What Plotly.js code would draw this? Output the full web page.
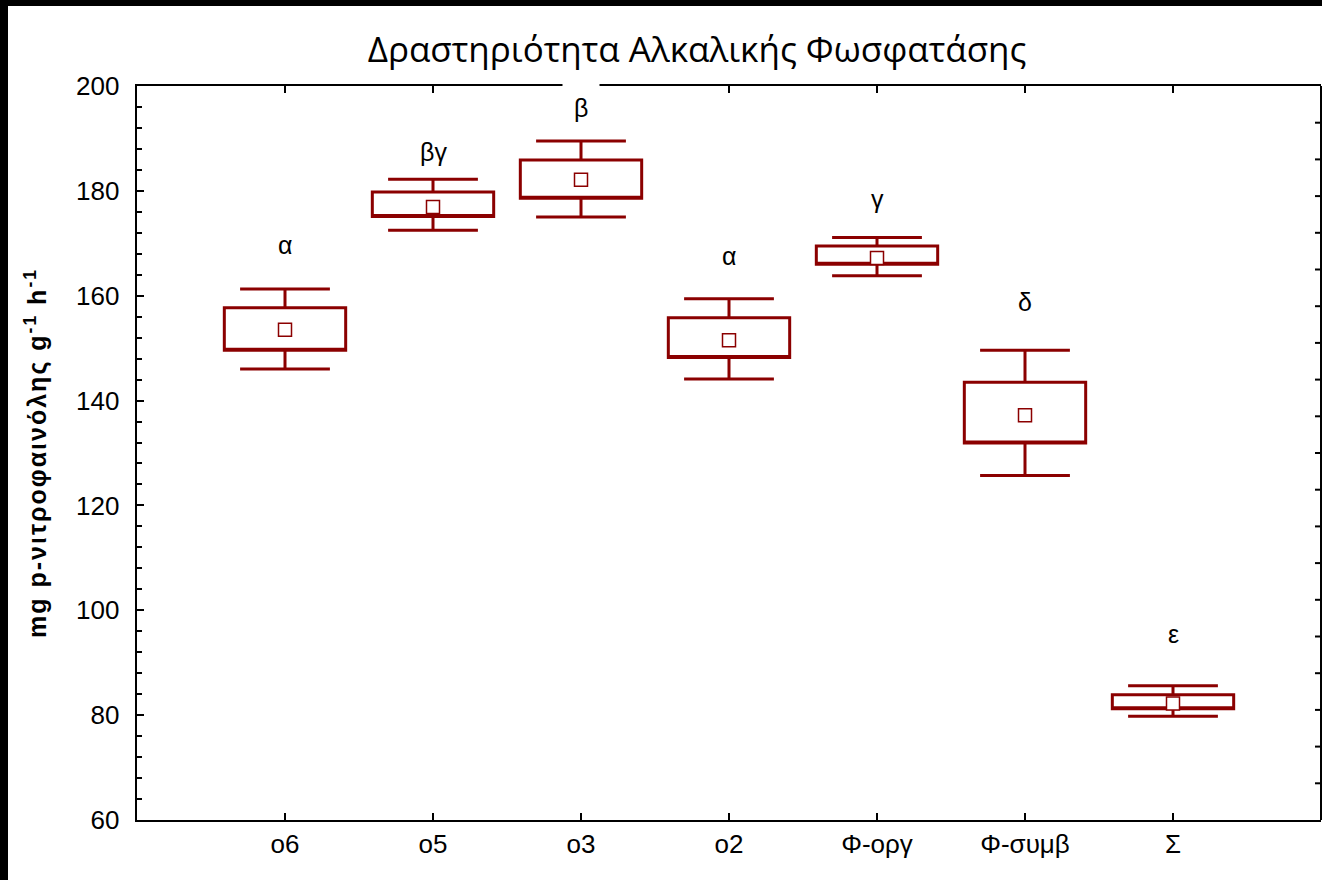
<!DOCTYPE html>
<html>
<head>
<meta charset="utf-8">
<script src="https://cdn.plot.ly/plotly-3.0.1.min.js"></script>
<style>
  html, body { margin: 0; padding: 0; background: #000; width: 1322px; height: 880px; overflow: hidden; }
  #chart { position: absolute; left: 8px; top: 6px; width: 1314px; height: 874px; background: #fff; }
  #chart .ytitle { letter-spacing: 2px; }
</style>
</head>
<body>
<div id="chart"></div>
<script>
// ---- data ----
const categories   = ['o6', 'o5', 'o3', 'o2', 'Φ-οργ', 'Φ-συμβ', 'Σ'];
const meanValues   = [153.5, 176.9, 182.1, 151.5, 167.2, 137.2, 82.2];
const boxUpper     = [157.7, 179.8, 185.9, 155.8, 169.5, 143.5, 83.9];
const boxLower     = [149.6, 175.1, 178.6, 148.2, 166.0, 131.9, 81.2];
const whiskerUpper = [161.3, 182.2, 189.5, 159.4, 171.1, 149.6, 85.6];
const whiskerLower = [146.0, 172.5, 175.0, 144.1, 163.8, 125.7, 79.8];
const groupLetters = ['α', 'βγ', 'β', 'α', 'γ', 'δ', 'ε'];
const letterY      = [169.7, 187.4, 195.8, 167.6, 178.4, 158.8, 95.5];
const rightTickIntervals = 20;   // unlabelled ticks on the right frame

const dark = '#8B0000';

const boxTrace = {
  type: 'box',
  x: categories,
  q1: boxLower,
  median: boxLower,
  q3: boxUpper,
  lowerfence: whiskerLower,
  upperfence: whiskerUpper,
  width: 0.82,
  whiskerwidth: 0.74,
  line: { color: dark, width: 3 },
  fillcolor: 'rgba(0,0,0,0)',
  boxpoints: false,
  hoverinfo: 'skip',
  showlegend: false
};

const meanTrace = {
  type: 'scatter',
  mode: 'markers',
  x: categories,
  y: meanValues,
  marker: { symbol: 'square', size: 13, color: '#fff', line: { color: dark, width: 1.5 } },
  hoverinfo: 'skip',
  showlegend: false
};

const annotations = groupLetters.map((t, i) => ({
  x: categories[i], y: letterY[i], xref: 'x', yref: 'y',
  text: t, showarrow: false,
  font: { family: 'Liberation Sans, Arial, sans-serif', size: 25, color: '#000' },
  bgcolor: i === 2 ? '#fff' : 'rgba(0,0,0,0)',
  borderpad: i === 2 ? 11 : 1
}));

// right frame line and its inward ticks (axis decoration, in paper coordinates)
const frameShapes = [{
  type: 'line', xref: 'paper', yref: 'paper', x0: 1, x1: 1, y0: 0, y1: 1,
  line: { color: '#000', width: 2 }
}];
for (let k = 1; k < rightTickIntervals; k++) {
  frameShapes.push({
    type: 'line', xref: 'paper', yref: 'paper',
    xsizemode: 'pixel', xanchor: 1, x0: -6, x1: 0,
    y0: k / rightTickIntervals, y1: k / rightTickIntervals,
    line: { color: '#000', width: 2 }
  });
}

const tickFont = { family: 'Liberation Sans, Arial, sans-serif', size: 26, color: '#000' };

const layout = {
  width: 1314, height: 874,
  margin: { l: 129, r: 1, t: 80, b: 60 },
  paper_bgcolor: '#fff', plot_bgcolor: '#fff',
  hovermode: false,
  showlegend: false,
  title: {
    text: 'Δραστηριότητα Αλκαλικής Φωσφατάσης',
    font: { family: 'Open Sans, sans-serif', size: 35, color: '#000' },
    xref: 'paper', x: 0.473, xanchor: 'center',
    yref: 'container', y: 0.95, yanchor: 'middle'
  },
  xaxis: {
    type: 'category',
    categoryorder: 'array', categoryarray: categories,
    range: [-1, 7],
    showline: true, linecolor: '#000', linewidth: 2,
    mirror: 'ticks',
    ticks: 'inside', ticklen: 7, tickwidth: 2, tickcolor: '#000',
    showgrid: false, zeroline: false,
    tickfont: tickFont
  },
  yaxis: {
    range: [60, 200],
    dtick: 20, tick0: 0,
    showline: true, linecolor: '#000', linewidth: 2,
    ticks: 'inside', ticklen: 7, tickwidth: 2, tickcolor: '#000',
    minor: { dtick: 4, ticks: 'inside', ticklen: 5, tickwidth: 2, tickcolor: '#000', showgrid: false },
    showgrid: false, zeroline: false,
    tickfont: tickFont,
    ticksuffix: '\u2009\u2009',
    title: {
      text: 'mg p-νιτροφαινόλης g<sup>-1</sup> h<sup>-1</sup>',
      font: { family: 'Liberation Sans, Arial, sans-serif', size: 25, color: '#000', weight: 'bold' },
      standoff: 22
    }
  },
  shapes: frameShapes,
  annotations: annotations
};

Plotly.newPlot('chart', [boxTrace, meanTrace], layout, { staticPlot: true, displayModeBar: false });
</script>
</body>
</html>
